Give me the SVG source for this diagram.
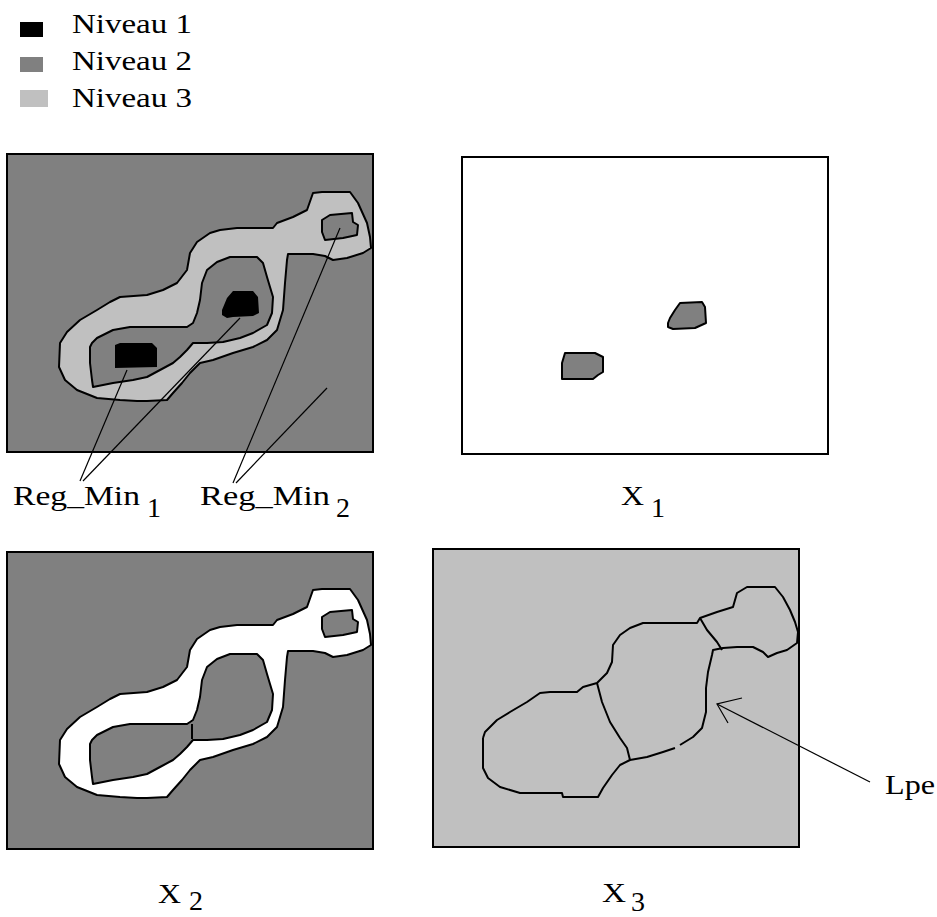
<svg xmlns="http://www.w3.org/2000/svg" width="937" height="917" viewBox="0 0 937 917">
<style>
.t{font-family:"Liberation Serif","DejaVu Serif",serif;fill:#000}
.frame{stroke:#000;stroke-width:2}
.ol{stroke:#000;stroke-width:2;stroke-linejoin:round}
.ln{stroke:#000;stroke-width:1.2;fill:none}
</style>
<defs>
<path id="outer" d="M313,193 L322,192 L350,192 L358,203 L367,223 L370,237 L371,248 L363,253 L347,258 L333,260 L325,256 L313,254 L288,254 L287,260 L285,283 L283,310 L277,330 L267,340 L253,347 L233,353 L213,360 L200,363 L190,373 L182,383 L173,393 L167,400 L147,401 L137,401 L120,400 L97,398 L77,390 L65,380 L59,367 L60,343 L67,332 L80,320 L97,310 L110,302 L120,297 L147,295 L163,290 L177,283 L187,270 L190,253 L197,242 L210,233 L220,230 L237,228 L273,228 L277,223 L293,217 L307,210 Z"/>
<path id="inner" d="M90,347 L92,343 L97,338 L113,330 L130,327 L187,327 L193,323 L197,313 L200,300 L202,283 L207,270 L217,262 L230,257 L257,257 L263,263 L267,277 L270,287 L273,297 L272,313 L267,325 L253,333 L240,338 L223,342 L207,343 L193,343 L187,350 L180,357 L173,363 L160,370 L147,377 L133,380 L113,383 L93,387 L92,380 L90,363 Z"/>
<path id="small" d="M322,220 L330,215 L352,213 L353,222 L358,225 L357,235 L343,238 L325,240 L322,232 Z"/>
</defs>

<g id="legend">
<rect x="20" y="22" width="23" height="15" fill="#000"/>
<rect x="20" y="57" width="23" height="15" fill="#808080"/>
<rect x="20" y="90" width="28" height="17" fill="#c0c0c0"/>
<text class="t" x="72" y="33" font-size="27" textLength="120" lengthAdjust="spacingAndGlyphs">Niveau 1</text>
<text class="t" x="72" y="70" font-size="27" textLength="120" lengthAdjust="spacingAndGlyphs">Niveau 2</text>
<text class="t" x="72" y="107" font-size="27" textLength="120" lengthAdjust="spacingAndGlyphs">Niveau 3</text>
</g>

<g id="panel-image">
<rect class="frame" x="7" y="154" width="366" height="298" fill="#808080"/>
<use href="#outer" class="ol" fill="#c0c0c0"/>
<use href="#inner" class="ol" fill="#808080"/>
<use href="#small" class="ol" fill="#808080"/>
<path d="M115,345 L120,343 L152,343 L157,348 L157,367 L115,368 Z" fill="#000"/>
<path d="M222,310 L227,298 L233,291 L253,291 L258,297 L259,313 L253,316 L233,317 L227,318 L222,315 Z" fill="#000"/>
</g>

<g id="panel-x1">
<rect class="frame" x="462" y="157" width="366" height="297" fill="#fff"/>
<path class="ol" fill="#808080" d="M668,323 L670,318 L675,310 L680,303 L702,302 L705,307 L706,323 L695,328 L673,329 L668,327 Z"/>
<path class="ol" fill="#808080" d="M562,363 L565,353 L595,353 L603,357 L603,372 L598,375 L593,379 L562,379 Z"/>
<text class="t" x="621" y="505" font-size="28" textLength="23" lengthAdjust="spacingAndGlyphs">X</text>
<text class="t" x="651" y="517" font-size="28">1</text>
</g>

<g id="panel-x2">
<rect class="frame" x="7" y="552" width="366" height="297" fill="#808080"/>
<g transform="translate(0,397)">
<use href="#outer" class="ol" fill="#fff"/>
<use href="#inner" class="ol" fill="#808080"/>
<use href="#small" class="ol" fill="#808080"/>
<path class="ol" fill="none" d="M192,327 L192,342"/>
</g>
<text class="t" x="158" y="903" font-size="28" textLength="23" lengthAdjust="spacingAndGlyphs">X</text>
<text class="t" x="189" y="910" font-size="28">2</text>
</g>

<g id="panel-x3">
<rect class="frame" x="433" y="549" width="366" height="298" fill="#c0c0c0"/>
<path class="ol" fill="none" d="M483,738 L485,732 L492,725 L497,720 L510,712 L527,702 L540,693 L550,692 L577,692 L583,687 L597,683 L607,673 L612,662 L613,645 L620,635 L630,628 L643,623 L697,623 L700,618 L717,612 L733,607 L737,593 L747,587 L775,587 L783,597 L790,610 L795,622 L798,632 L797,643 L787,650 L777,653 L768,657 L763,652 L753,647 L737,647 L723,648 L713,650 L712,655 L708,672 L706,688 L706,712 L702,728 L693,737 L680,745 M675,748 L663,752 L647,757 L630,760 L620,765 L612,775 L603,788 L598,797 L563,797 L562,793 L520,793 L500,787 L488,778 L483,768 L483,738"/>
<path class="ol" fill="none" d="M597,683 L602,702 L610,722 L620,738 L627,748 L630,760"/>
<path class="ol" fill="none" d="M700,618 L707,630 L717,642 L722,650"/>
<text class="t" x="602" y="902" font-size="28" textLength="24" lengthAdjust="spacingAndGlyphs">X</text>
<text class="t" x="631" y="911" font-size="28">3</text>
</g>

<g id="connectors">
<line class="ln" x1="127" y1="370" x2="80" y2="481"/>
<line class="ln" x1="240" y1="318" x2="83" y2="481"/>
<line class="ln" x1="340" y1="228" x2="233" y2="483"/>
<line class="ln" x1="327" y1="388" x2="236" y2="483"/>
<line class="ln" x1="870" y1="782" x2="717" y2="704"/>
<path class="ln" d="M742,698 L717,704 L728,723"/>
</g>

<g id="labels">
<text class="t" x="13" y="505" font-size="28" textLength="127" lengthAdjust="spacingAndGlyphs">Reg_Min</text>
<text class="t" x="147" y="517" font-size="28">1</text>
<text class="t" x="200" y="505" font-size="28" textLength="130" lengthAdjust="spacingAndGlyphs">Reg_Min</text>
<text class="t" x="336" y="517" font-size="28">2</text>
<text class="t" x="885" y="794" font-size="28" textLength="50" lengthAdjust="spacingAndGlyphs">Lpe</text>
</g>
</svg>
